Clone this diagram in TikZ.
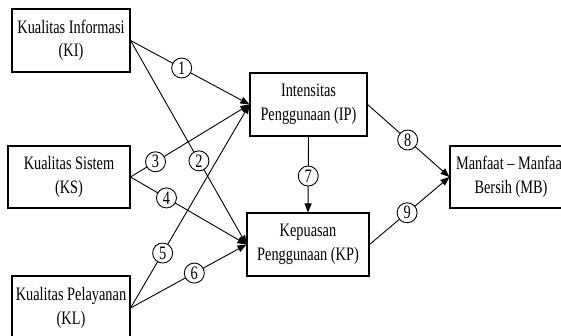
\documentclass[tikz,border=0pt]{standalone}
\usepackage{fontspec}
\setmainfont{Liberation Serif}[FakeStretch=0.755]
\usetikzlibrary{arrows.meta}

\begin{document}
\begin{tikzpicture}[x=1pt, y=-1pt,
    box/.style={draw, line width=1.1pt, align=center, inner sep=0pt,
      font=\fontsize{19}{23.5}\selectfont},
    num/.style={circle, draw, fill=white, line width=0.9pt, minimum size=20pt,
      inner sep=0pt, font=\fontsize{19}{19}\selectfont},
    arr/.style={line width=0.9pt, -{Triangle[length=9pt,width=7pt]}}]
    \useasboundingbox (0,0) rectangle (561,336);
    \clip (0,0) rectangle (561,336);
    % Variables
    \node[box, minimum width=118pt, minimum height=63pt] (KI) at (71,40.5) {Kualitas Informasi\\(KI)};
    \node[box, minimum width=122pt, minimum height=62pt] (KS) at (69,177) {Kualitas Sistem\\(KS)};
    \node[box, minimum width=118pt, minimum height=64pt] (KL) at (71,308) {Kualitas Pelayanan\\(KL)};
    \node[box, minimum width=117pt, minimum height=63pt] (IP) at (308.5,104.5) {Intensitas\\Penggunaan (IP)};
    \node[box, minimum width=122pt, minimum height=63pt] (KP) at (308,244.5) {Kepuasan\\Penggunaan (KP)};
    \node[box, minimum width=122pt, minimum height=62pt] (MB) at (511,177) {Manfaat -- Manfaat\\Bersih (MB)};
    % Hypotheses
    \draw[arr] (KI.east) -- node[num, pos=.43] {1} (IP.west);
    \draw[arr] (KI.east) -- node[num, pos=.59] {2} (KP.west);
    \draw[arr] (KS.east) -- node[num, pos=.21] {3} (IP.west);
    \draw[arr] (KS.east) -- node[num, pos=.31] {4} (KP.west);
    \draw[arr] (KL.east) -- node[num, pos=.27] {5} (IP.west);
    \draw[arr] (KL.east) -- node[num, pos=.55] {6} (KP.west);
    \draw[arr] (IP.south) -- node[num, pos=.52] {7} (KP.north);
    \draw[arr] (IP.east) -- node[num, pos=.49] {8} (MB.west);
    \draw[arr] (KP.east) -- node[num, pos=.47] {9} (MB.west);
\end{tikzpicture}
\end{document}
